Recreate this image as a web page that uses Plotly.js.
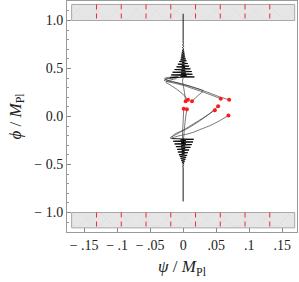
<!DOCTYPE html>
<html><head><meta charset="utf-8">
<script src="https://cdn.plot.ly/plotly-3.0.1.min.js"></script>
<style>html,body{margin:0;padding:0;background:#fff;}#chart{width:299px;height:282px;}</style>
</head><body><div id="chart"></div>
<script>
// ---- data ----
var xTickVals = [-0.15, -0.1, -0.05, 0, 0.05, 0.1, 0.15];
var xTickText = ["\u2212 .15", "\u2212 .1", "\u2212 .05", "0", ".05", ".1", ".15"];
var yTickVals = [1.0, 0.5, 0.0, -0.5, -1.0];
var yTickText = ["1.0", "0.5", "0.0", "\u2212 0.5", "\u2212 1.0"];

var bandPsi = [-0.169, 0.169];
var upperBandPhi = [1.0, 1.167];
var lowerBandPhi = [-1.0, -1.16];
var redLinePsi = [-0.13125, -0.09375, -0.05625, -0.01875, 0.01875, 0.05625, 0.09375, 0.13125];

// initial points (red dots)
var startPsi = [0.0697, 0.057, 0.0134, 0.0073, 0.0038, 0.048, 0.053, 0.0686, 0.0008, 0.0056];
var startPhi = [0.174, 0.185, 0.159, 0.175, 0.159, 0.066, 0.106, 0.010, 0.080, 0.076];

// trajectories
var trajAPsi = [0.0697, 0.055, 0.042, 0.028, 0.013, -0.002, -0.016, -0.026, -0.028, -0.02, -0.008];
var trajAPhi = [0.174, 0.205, 0.24, 0.275, 0.31, 0.34, 0.365, 0.382, 0.398, 0.41, 0.418];
var trajBPsi = [0.057, 0.044, 0.03, 0.015, 0.0, -0.014, -0.025, -0.029, -0.024, -0.01];
var trajBPhi = [0.185, 0.22, 0.255, 0.29, 0.325, 0.348, 0.365, 0.378, 0.392, 0.405];
var trajCPsi = [0.0134, 0.022, 0.0305, 0.018, 0.003, -0.012, -0.024, -0.027, -0.018, -0.006];
var trajCPhi = [0.159, 0.215, 0.268, 0.298, 0.33, 0.355, 0.372, 0.388, 0.402, 0.412];
var trajDPsi = [0.0073, 0.0, -0.01, -0.02, -0.026, -0.022, -0.01];
var trajDPhi = [0.175, 0.23, 0.285, 0.33, 0.355, 0.375, 0.395];
var trajEPsi = [0.0038, 0.002, 0.0, -0.001, 0.0];
var trajEPhi = [0.159, 0.25, 0.33, 0.37, 0.40];
var trajFPsi = [0.048, 0.036, 0.022, 0.01, 0.0, -0.01, -0.017, -0.02, -0.017];
var trajFPhi = [0.066, 0.01, -0.05, -0.10, -0.145, -0.185, -0.21, -0.222, -0.232];
var trajGPsi = [0.053, 0.04, 0.0258, 0.015, 0.0056, -0.004, -0.012, -0.017, -0.016];
var trajGPhi = [0.106, 0.03, -0.042, -0.09, -0.128, -0.155, -0.18, -0.21, -0.23];
var trajHPsi = [0.0686, 0.055, 0.041, 0.027, 0.0156, 0.005, -0.0045, -0.013, -0.017];
var trajHPhi = [0.010, -0.045, -0.094, -0.132, -0.164, -0.185, -0.198, -0.215, -0.23];
var trajIPsi = [0.0008, 0.0, -0.001, 0.0];
var trajIPhi = [0.080, -0.05, -0.20, -0.28];
var trajJPsi = [0.0056, 0.003, 0.001, 0.0];
var trajJPhi = [0.076, -0.05, -0.20, -0.30];

// late-time oscillations
var upperOscPsi = [-0.020, 0.017, -0.004, 0.005, -0.018, 0.014, -0.003, 0.004, -0.016, 0.013,
  -0.003, 0.003, -0.013, 0.011, -0.002, 0.003, -0.010, 0.009, -0.002, 0.002,
  -0.008, 0.007, -0.0015, 0.002, -0.006, 0.005, -0.004, 0.004, -0.0035, 0.003,
  -0.003, 0.0025, -0.0025, 0.002, -0.002, 0.0015, -0.0015, 0.0012, -0.001, 0.0008,
  -0.0006, 0.0004, -0.0002, 0, 0];
var upperOscPhi = [0.405, 0.412, 0.419, 0.426, 0.433, 0.440, 0.447, 0.454, 0.461, 0.468,
  0.475, 0.482, 0.489, 0.496, 0.503, 0.510, 0.517, 0.524, 0.531, 0.538,
  0.545, 0.552, 0.559, 0.566, 0.573, 0.580, 0.590, 0.600, 0.610, 0.620,
  0.630, 0.640, 0.650, 0.660, 0.670, 0.680, 0.690, 0.700, 0.715, 0.730,
  0.745, 0.760, 0.775, 0.790, 1.07];
var lowerOscPsi = [-0.017, 0.016, -0.004, 0.004, -0.015, 0.015, -0.003, 0.004, -0.013, 0.013,
  -0.003, 0.003, -0.011, 0.011, -0.003, 0.003, -0.009, 0.009, -0.002, 0.002,
  -0.008, 0.007, -0.002, 0.002, -0.0065, 0.006, -0.005, 0.0045, -0.004, 0.0035,
  -0.003, 0.0025, -0.002, 0.0015, -0.001, 0.0008, -0.0005, 0.0002, 0, 0];
var lowerOscPhi = [-0.23, -0.237, -0.244, -0.251, -0.258, -0.265, -0.272, -0.279, -0.286, -0.293,
  -0.300, -0.307, -0.314, -0.321, -0.328, -0.335, -0.342, -0.349, -0.356, -0.363,
  -0.370, -0.377, -0.384, -0.391, -0.398, -0.405, -0.415, -0.425, -0.435, -0.445,
  -0.455, -0.465, -0.475, -0.485, -0.495, -0.505, -0.515, -0.525, -0.535, -0.885];

// ---- traces ----
var traces = [];
function band(phiPair) {
  return {
    x: [bandPsi[0], bandPsi[1], bandPsi[1], bandPsi[0], bandPsi[0]],
    y: [phiPair[0], phiPair[0], phiPair[1], phiPair[1], phiPair[0]],
    mode: 'lines', fill: 'toself', fillcolor: '#e4e4e4',
    fillpattern: {shape: 'x', fgcolor: '#d4d4d4', bgcolor: '#e6e6e6', size: 14, solidity: 0.05},
    line: {color: '#a8a8a8', width: 1}, hoverinfo: 'skip'
  };
}
traces.push(band(upperBandPhi));
traces.push(band(lowerBandPhi));
var rx = [], ry = [];
redLinePsi.forEach(function (p) {
  rx.push(p, p, null, p, p, null);
  ry.push(upperBandPhi[1], upperBandPhi[0], null, lowerBandPhi[0], lowerBandPhi[1], null);
});
traces.push({x: rx, y: ry, mode: 'lines', line: {color: '#ee2a2a', width: 1, dash: '5px,4px'}, hoverinfo: 'skip'});

var trajs = [[trajAPsi, trajAPhi], [trajBPsi, trajBPhi], [trajCPsi, trajCPhi], [trajDPsi, trajDPhi], [trajEPsi, trajEPhi],
  [trajFPsi, trajFPhi], [trajGPsi, trajGPhi], [trajHPsi, trajHPhi], [trajIPsi, trajIPhi], [trajJPsi, trajJPhi]];
trajs.forEach(function (t) {
  traces.push({x: t[0], y: t[1], mode: 'lines', line: {color: '#3a3a3a', width: 0.7, shape: 'spline', smoothing: 0.5}, hoverinfo: 'skip'});
});
traces.push({x: upperOscPsi, y: upperOscPhi, mode: 'lines', line: {color: '#000', width: 0.9}, hoverinfo: 'skip'});
traces.push({x: lowerOscPsi, y: lowerOscPhi, mode: 'lines', line: {color: '#000', width: 0.9}, hoverinfo: 'skip'});
traces.push({x: startPsi, y: startPhi, mode: 'markers', marker: {color: '#ff1a1a', size: 4}, hoverinfo: 'skip'});

var serif = "'Liberation Serif', 'Times New Roman', serif";
var layout = {
  width: 299, height: 282,
  margin: {l: 67, r: 2, t: 1, b: 50},
  paper_bgcolor: '#fff', plot_bgcolor: '#fff',
  showlegend: false,
  font: {family: serif, size: 14, color: '#222'},
  xaxis: {
    range: [-0.176, 0.1725], tickmode: 'array', tickvals: xTickVals, ticktext: xTickText,
    ticks: 'inside', ticklen: 4, tickcolor: '#888', tickwidth: 1,
    showline: true, linecolor: '#9a9a9a', linewidth: 1, mirror: true,
    showgrid: false, zeroline: false,
    tickfont: {family: serif, size: 14, color: '#222'},
    title: {text: '<i>\u03c8</i> / <i>M</i><sub>Pl</sub>', font: {family: serif, size: 17, color: '#222'}, standoff: 8}
  },
  yaxis: {
    range: [-1.203, 1.203], tickmode: 'array', tickvals: yTickVals, ticktext: yTickText,
    ticks: 'inside', ticklen: 4, tickcolor: '#888', tickwidth: 1,
    minor: {tickmode: 'linear', tick0: 0, dtick: 0.1, ticks: 'inside', ticklen: 2, tickcolor: '#999', showgrid: false},
    showline: true, linecolor: '#9a9a9a', linewidth: 1, mirror: true,
    showgrid: false, zeroline: false,
    tickfont: {family: serif, size: 14, color: '#222'},
    title: {text: '<i>\u03d5</i> / <i>M</i><sub>Pl</sub>', font: {family: serif, size: 17, color: '#222'}, standoff: 8}
  }
};
Plotly.newPlot('chart', traces, layout, {staticPlot: true, displayModeBar: false});
</script></body></html>
